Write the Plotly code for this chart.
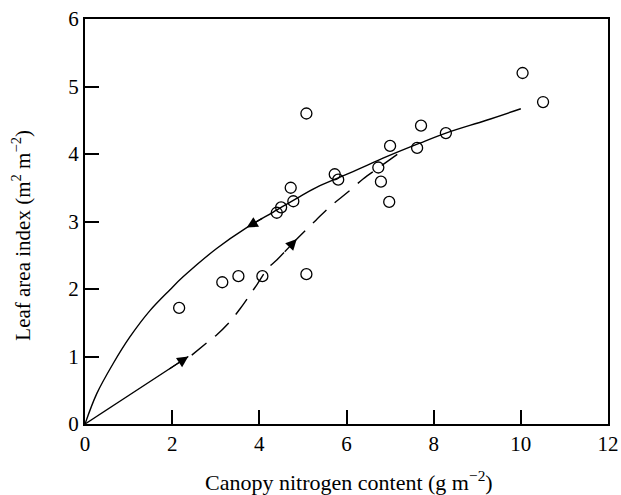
import plotly.graph_objects as go

# Observed canopy data: nitrogen content (g m-2) vs leaf area index (m2 m-2)
nitrogen = [2.16, 3.15, 3.52, 4.07, 5.08, 4.40, 4.50, 4.78, 4.72, 5.08,
            5.73, 5.81, 6.73, 6.79, 6.98, 7.00, 7.62, 7.71, 8.28, 10.04, 10.51]
lai = [1.72, 2.10, 2.19, 2.19, 2.22, 3.13, 3.21, 3.30, 3.50, 4.60,
       3.70, 3.62, 3.80, 3.59, 3.29, 4.12, 4.09, 4.42, 4.31, 5.20, 4.77]

# Solid trajectory (canopy development back toward the origin)
solid_x = [0, 0.27, 0.65, 1.03, 1.49, 1.95, 2.25, 3.02, 3.71, 4.32, 4.93,
           5.39, 6.15, 6.92, 7.68, 8.28, 9.21, 10.0]
solid_y = [0, 0.45, 0.90, 1.29, 1.68, 1.99, 2.18, 2.60, 2.91, 3.14, 3.37,
           3.53, 3.74, 3.96, 4.16, 4.31, 4.50, 4.67]

# Initial straight leg from the origin
start_x = [0, 2.37]
start_y = [0, 1.0]

# Dashed trajectory that rejoins the solid curve
dash_x = [2.45, 2.79, 3.02, 3.33, 3.55, 3.78, 3.95, 4.20, 4.40, 4.86, 5.30,
          5.64, 6.04, 6.38, 6.70, 6.98, 7.20, 7.36]
dash_y = [1.02, 1.20, 1.32, 1.52, 1.70, 1.91, 2.07, 2.31, 2.43, 2.74, 3.02,
          3.23, 3.44, 3.63, 3.78, 3.91, 4.01, 4.08]

# Arrow tips and tails (x, y)
arrows = [
    ((2.37, 1.0), (1.90, 0.80)),
    ((4.86, 2.74), (4.55, 2.53)),
    ((3.71, 2.91), (4.10, 3.06)),
]

X_TITLE = "Canopy nitrogen content (g m<sup>\u22122</sup>)"
Y_TITLE = "Leaf area index (m<sup>2</sup> m<sup>\u22122</sup>)"

FONT = "Liberation Serif"

fig = go.Figure()
fig.add_trace(go.Scatter(x=solid_x, y=solid_y, mode="lines",
                         line=dict(color="black", width=1.4, shape="spline",
                                   smoothing=1.0),
                         hoverinfo="skip"))
fig.add_trace(go.Scatter(x=start_x, y=start_y, mode="lines",
                         line=dict(color="black", width=1.4),
                         hoverinfo="skip"))
fig.add_trace(go.Scatter(x=dash_x, y=dash_y, mode="lines",
                         line=dict(color="black", width=1.4, shape="spline",
                                   dash="19px,11px"),
                         hoverinfo="skip"))
fig.add_trace(go.Scatter(x=nitrogen, y=lai, mode="markers",
                         marker=dict(symbol="circle-open", size=11,
                                     color="black", line=dict(width=1.3))))

for (tx, ty), (sx, sy) in arrows:
    fig.add_annotation(x=tx, y=ty, ax=sx, ay=sy, xref="x", yref="y",
                       axref="x", ayref="y", text="", showarrow=True,
                       arrowhead=2, arrowsize=1.7, arrowwidth=1.3,
                       arrowcolor="black", standoff=0)

# Axis titles placed in the margins
fig.add_annotation(text=X_TITLE, xref="paper", yref="paper", x=0.505, y=0,
                   yshift=-57, xanchor="center", yanchor="middle",
                   showarrow=False,
                   font=dict(family=FONT, size=22, color="black"))
fig.add_annotation(text=Y_TITLE, xref="paper", yref="paper", x=0, y=0.465,
                   xshift=-63, xanchor="center", yanchor="middle",
                   textangle=-90, showarrow=False,
                   font=dict(family=FONT, size=21, color="black"))

axis_common = dict(showline=True, linecolor="black", linewidth=2,
                   mirror=True, ticks="inside", ticklen=14, tickwidth=1.5,
                   tickcolor="black", showgrid=False, zeroline=False,
                   automargin=False,
                   tickfont=dict(family=FONT, size=21, color="black"))

fig.update_xaxes(range=[0, 12], tickvals=[0, 2, 4, 6, 8, 10, 12],
                 **axis_common)
fig.update_yaxes(range=[0, 6], tickvals=[0, 1, 2, 3, 4, 5, 6],
                 **axis_common)

fig.update_layout(width=621, height=495, showlegend=False,
                  font=dict(family=FONT, color="black"),
                  plot_bgcolor="white", paper_bgcolor="white",
                  margin=dict(l=85, r=13, t=19, b=71))

fig.write_html("out.html")
